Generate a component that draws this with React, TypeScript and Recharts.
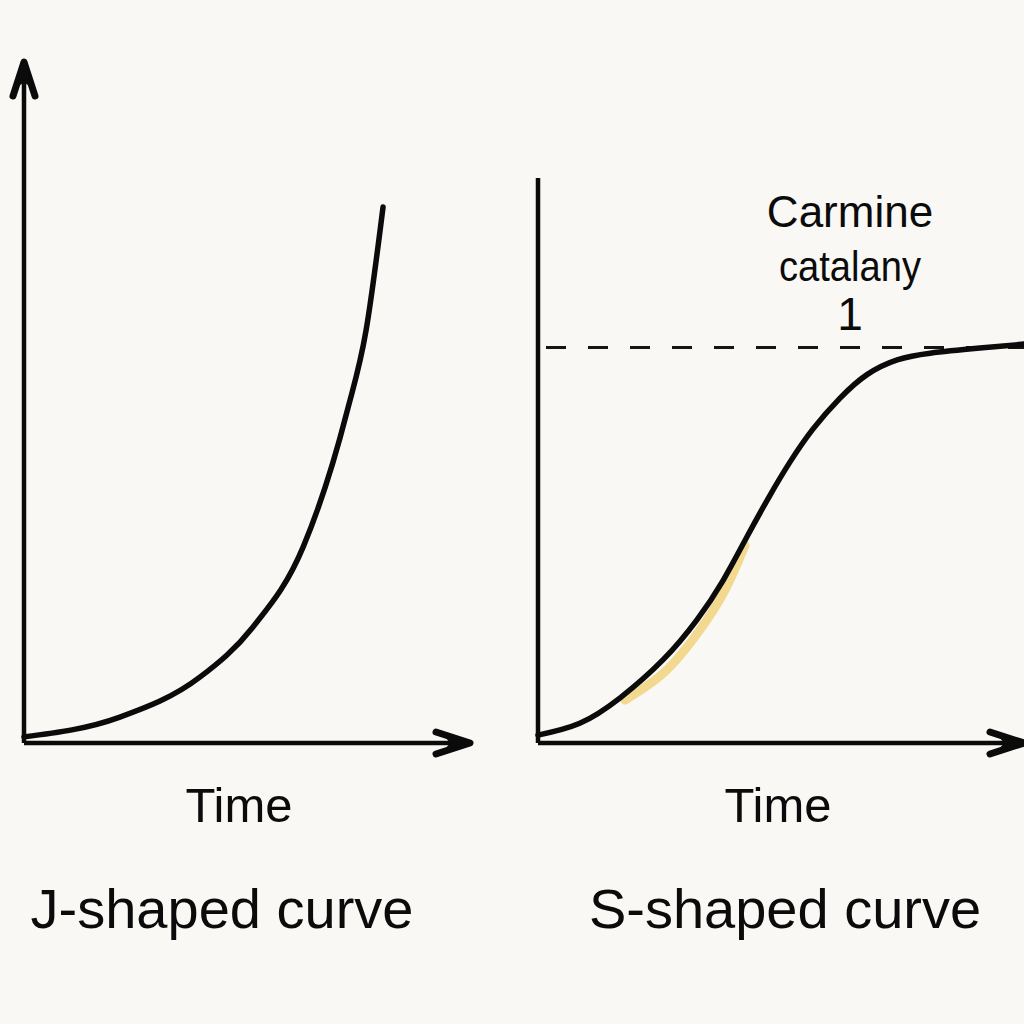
import React from "react";
import { LineChart, Line, XAxis, YAxis, ReferenceLine, ReferenceDot } from "recharts";

// exponential growth (time, population)
const jTime = [0, 2.15, 3.95, 5.13, 6.26, 7.24, 7.67, 8.05];
const jPop = [0.9, 3.8, 9.7, 17.0, 28.8, 48.6, 60.6, 78.7];

// logistic growth (time, population)
const sTime = [0, 0.86, 1.69, 2.57, 3.27, 3.81, 4.3, 4.77, 5.19, 5.66, 6.21, 6.77, 7.39, 8.07, 9.09, 10];
const sPop = [1.4, 3.5, 8.0, 14.7, 21.8, 28.8, 36.5, 43.8, 49.8, 55.6, 61.0, 65.2, 67.8, 69.0, 69.9, 70.6];

// highlighted stretch of the logistic curve
const hlTime = [1.79, 2.61, 3.33, 3.85, 4.26];
const hlPop = [7.6, 12.6, 20.0, 27.1, 35.0];

const capacity = 70;
const capacityLabel = ["Carmine", "catalany", "1"];
const axisName = "Time";
const titles = ["J-shaped curve", "S-shaped curve"];

const toPoints = (xs: number[], ys: number[]) => xs.map((t, i) => ({ t, n: ys[i] }));
const jData = toPoints(jTime, jPop);
const sData = toPoints(sTime, sPop);
const hlData = toPoints(hlTime, hlPop);

const INK = "#0b0b0b";
const BG = "#f9f8f5";
const FONT = "'Liberation Sans', Arial, Helvetica, sans-serif";

const ArrowDefs = ({ id }: { id: string }) => (
  <defs>
    <marker
      id={id}
      markerUnits="userSpaceOnUse"
      viewBox="-42 -16 46 32"
      refX={0}
      refY={0}
      markerWidth={46}
      markerHeight={32}
      orient="auto-start-reverse"
      overflow="visible"
    >
      <path d="M -34 -11 L 0 0 L -34 11" fill="none" stroke={INK} strokeWidth={7} strokeLinecap="round" strokeLinejoin="round" />
      <path d="M 1 0 L -28 -10 L -20 0 L -28 10 Z" fill={INK} />
    </marker>
  </defs>
);

const axisTitles = (timeDx: number, titleDx: number) => (props: any) => {
  const { x, y, width } = props.viewBox;
  const cx = x + width / 2;
  return (
    <g fontFamily={FONT} fill={INK} textAnchor="middle">
      <text x={cx + timeDx} y={y + 79} fontSize={49}>
        {axisName}
      </text>
      <text x={cx + titleDx} y={y + 185} fontSize={56}>
        {props.title}
      </text>
    </g>
  );
};

const CapacityNote = (props: any) => {
  const { x } = props.viewBox;
  return (
    <g fontFamily={FONT} fill={INK} textAnchor="middle">
      <text x={x} y={227} fontSize={44}>{capacityLabel[0]}</text>
      <text x={x} y={281} fontSize={42} textLength={142} lengthAdjust="spacingAndGlyphs">
        {capacityLabel[1]}
      </text>
      <text x={x} y={330} fontSize={46}>{capacityLabel[2]}</text>
    </g>
  );
};

export default function App() {
  const JLabel = axisTitles(-8, -25);
  const SLabel = axisTitles(-3, 4);
  return (
    <div style={{ position: "absolute", left: 0, top: 0, width: 1024, height: 1024, background: BG, overflow: "hidden" }}>
      <div style={{ position: "absolute", left: 0, top: 0 }}>
        <LineChart width={512} height={1024} margin={{ top: 62, right: 42, bottom: 280, left: 23 }}>
          <ArrowDefs id="arrowJ" />
          <XAxis
            type="number"
            dataKey="t"
            domain={[0, 10]}
            height={1}
            tick={false}
            tickLine={false}
            axisLine={{ stroke: INK, strokeWidth: 4.5, markerEnd: "url(#arrowJ)" }}
            label={<JLabel title={titles[0]} />}
          />
          <YAxis
            type="number"
            domain={[0, 100]}
            width={1}
            tick={false}
            tickLine={false}
            axisLine={{ stroke: INK, strokeWidth: 4.5, markerStart: "url(#arrowJ)" }}
          />
          <Line
            data={jData}
            dataKey="n"
            type="monotone"
            stroke={INK}
            strokeWidth={5.5}
            strokeLinecap="round"
            dot={false}
            isAnimationActive={false}
          />
        </LineChart>
      </div>
      <div style={{ position: "absolute", left: 512, top: 0 }}>
        <LineChart width={512} height={1024} margin={{ top: 178, right: 0, bottom: 280, left: 25 }}>
          <ArrowDefs id="arrowS" />
          <XAxis
            type="number"
            dataKey="t"
            domain={[0, 10]}
            height={1}
            tick={false}
            tickLine={false}
            axisLine={{ stroke: INK, strokeWidth: 4.5, markerEnd: "url(#arrowS)" }}
            label={<SLabel title={titles[1]} />}
          />
          <YAxis
            type="number"
            domain={[0, 100]}
            width={1}
            tick={false}
            tickLine={false}
            axisLine={{ stroke: INK, strokeWidth: 4.5 }}
          />
          <ReferenceLine y={capacity} stroke="#151515" strokeWidth={3} strokeDasharray="20 22" strokeDashoffset={-8} />
          <ReferenceDot x={6.42} y={capacity} r={0} stroke="none" fill="none" label={<CapacityNote />} />
          <Line
            data={hlData}
            dataKey="n"
            type="natural"
            stroke="#f2d27c"
            strokeOpacity={0.85}
            strokeWidth={9}
            strokeLinecap="round"
            dot={false}
            isAnimationActive={false}
          />
          <Line
            data={sData}
            dataKey="n"
            type="natural"
            stroke={INK}
            strokeWidth={5.5}
            strokeLinecap="round"
            dot={false}
            isAnimationActive={false}
          />
        </LineChart>
      </div>
    </div>
  );
}
